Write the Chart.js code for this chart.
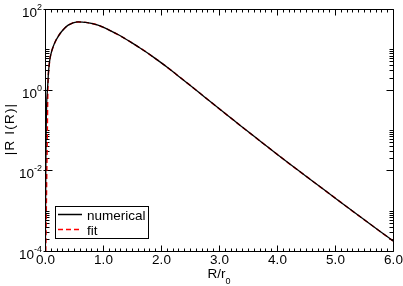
<!DOCTYPE html>
<html>
<head>
<meta charset="utf-8">
<script src="https://cdn.jsdelivr.net/npm/chart.js@4/dist/chart.umd.min.js"></script>
<style>
html,body{margin:0;padding:0;background:#fff;}
#wrap{width:403px;height:286px;position:relative;}
</style>
</head>
<body>
<div id="wrap"><canvas id="c" width="403" height="286"></canvas></div>
<script>
// ---- data ----
const rNum = [0.006,0.010,0.014,0.020,0.030,0.040,0.050,0.060,0.083,0.10,0.12,0.142,0.18,0.228,0.28,0.342,0.40,0.458,0.50,0.57,0.65,0.70,0.80,0.90,1.00,1.125,1.25,1.375,1.50,1.625,1.75,1.875,2.00,2.125,2.25,2.50,2.75,3.00,3.25,3.50,3.75,4.00,4.25,4.50,4.75,5.00,5.25,5.50,5.75,6.00];
const vNum = [4e-5,1e-3,1e-2,0.1,0.5,0.9,1.5,2.7,5.5,7.4,9.5,11.7,15.8,20.9,26.9,33.9,39.8,43.7,46.2,47.9,47.3,46.6,44.0,40.2,35.5,29.2,23.6,18.6,14.5,11.1,8.43,6.31,4.68,3.43,2.48,1.29,0.661,0.339,0.176,0.0912,0.0479,0.0251,0.0133,7.16e-3,3.85e-3,2.07e-3,1.11e-3,6.03e-4,3.27e-4,1.78e-4];
const rFit = [0.011,0.022,0.031,0.040,0.049,0.055,0.065,0.083,0.10,0.12,0.142,0.18,0.228,0.28,0.342,0.40,0.458,0.50,0.57,0.65,0.70,0.80,0.90,1.00,1.125,1.25,1.375,1.50,1.625,1.75,1.875,2.00,2.125,2.25,2.50,2.75,3.00,3.25,3.50,3.75,4.00,4.25,4.50,4.75,5.00,5.25,5.50,5.75,6.00];
const vFit = [6.3e-5,1.0e-3,1.0e-2,0.10,1.0,1.95,3.16,5.5,7.4,9.5,11.7,15.8,20.9,26.9,33.9,39.8,43.7,46.2,47.9,47.3,46.6,44.0,40.2,35.5,29.2,23.6,18.6,14.5,11.1,8.43,6.31,4.68,3.43,2.48,1.29,0.661,0.339,0.176,0.0912,0.0479,0.0251,0.0133,7.16e-3,3.85e-3,2.07e-3,1.11e-3,6.03e-4,3.27e-4,1.78e-4];
const seriesLabels = ['numerical','fit'];
const xTicks = [0,1,2,3,4,5,6];
const xTickLabels = ['0.0','1.0','2.0','3.0','4.0','5.0','6.0'];
const yTicks = [1e-4,1e-2,1,1e2];
const yTickExp = ['-4','-2','0','2'];

const FONT = '"Liberation Sans", Arial, Helvetica, sans-serif';

function pts(xs, ys){ return xs.map((x,i)=>({x:x, y:ys[i]})); }

const decor = {
  id:'decor',
  beforeDatasetsDraw(chart){
    const ctx = chart.ctx, a = chart.chartArea;
    const xs = chart.scales.x, ys = chart.scales.y;
    const L = Math.round(a.left)+0.5, R = Math.round(a.right)+0.5, T = Math.round(a.top)+0.5, B = Math.round(a.bottom)+0.5;
    ctx.save();
    ctx.strokeStyle = '#000'; ctx.lineWidth = 1;
    ctx.beginPath();
    for (let i=0;i<=60;i++){
      const v = i/10;
      const px = Math.round(xs.getPixelForValue(v))+0.5;
      const len = (i%10===0)?6:3;
      ctx.moveTo(px,B); ctx.lineTo(px,B-len);
      ctx.moveTo(px,T); ctx.lineTo(px,T+len);
    }
    const yMinor = [];
    [1e-4,1e-2,1].forEach(d=>{ for(let k=2;k<=10;k++) yMinor.push(d*k); });
    yMinor.forEach(v=>{
      const py = Math.round(ys.getPixelForValue(v))+0.5;
      ctx.moveTo(L,py); ctx.lineTo(L+4,py);
      ctx.moveTo(R,py); ctx.lineTo(R-4,py);
    });
    yTicks.forEach(v=>{
      const py = Math.round(ys.getPixelForValue(v))+0.5;
      ctx.moveTo(L-2,py); ctx.lineTo(L+7,py);
      ctx.moveTo(R,py); ctx.lineTo(R-7,py);
    });
    ctx.stroke();
    ctx.beginPath();
    ctx.rect(L,T,R-L,B-T);
    ctx.stroke();
    ctx.fillStyle = '#000';
    ctx.font = '13.5px '+FONT;
    ctx.textAlign = 'center'; ctx.textBaseline = 'alphabetic';
    xTicks.forEach((v,i)=>{
      ctx.fillText(xTickLabels[i], xs.getPixelForValue(v)+0.5, 264);
    });
    yTicks.forEach((v,i)=>{
      const py = ys.getPixelForValue(v);
      ctx.font = '9px '+FONT;
      const sw = ctx.measureText(yTickExp[i]).width;
      ctx.textAlign = 'left';
      ctx.fillText(yTickExp[i], 42 - sw, py + 1);
      ctx.font = '13.5px '+FONT;
      ctx.textAlign = 'right';
      ctx.fillText('10', 42 - sw, py + 8);
    });
    ctx.font = '13.5px '+FONT;
    const w1 = ctx.measureText('R/r').width;
    ctx.font = '9px '+FONT;
    const w2 = ctx.measureText('0').width;
    const x0 = 219 - (w1+w2)/2;
    ctx.textAlign = 'left';
    ctx.font = '13.5px '+FONT;
    ctx.fillText('R/r', x0, 278);
    ctx.font = '9px '+FONT;
    ctx.fillText('0', x0 + w1, 284);
    ctx.save();
    ctx.translate(14, 129);
    ctx.rotate(-Math.PI/2);
    ctx.font = '13.5px '+FONT;
    ctx.textAlign = 'center';
    try { ctx.letterSpacing = '1.2px'; } catch(e) {}
    ctx.fillText('|R I(R)|', 0, 0);
    try { ctx.letterSpacing = '0px'; } catch(e) {}
    ctx.restore();
    ctx.restore();
  },
  afterDraw(chart){
    const ctx = chart.ctx;
    const ds = chart.data.datasets;
    ctx.save();
    ctx.fillStyle = '#fff';
    ctx.fillRect(55.5,206.5,93,32);
    ctx.strokeStyle = '#000'; ctx.lineWidth = 1;
    ctx.strokeRect(55.5,206.5,93,32);
    const rows = [214.5, 229.5];
    ds.forEach((d,i)=>{
      ctx.beginPath();
      ctx.strokeStyle = d.borderColor;
      ctx.lineWidth = 1.5;
      ctx.setLineDash(d.borderDash || []);
      ctx.moveTo(58, rows[i]); ctx.lineTo(82, rows[i]);
      ctx.stroke();
      ctx.setLineDash([]);
      ctx.fillStyle = '#000';
      ctx.font = '13.5px '+FONT;
      ctx.textAlign = 'left'; ctx.textBaseline = 'alphabetic';
      ctx.fillText(d.label, 87, rows[i] + 5.5);
    });
    ctx.restore();
  }
};

new Chart(document.getElementById('c'), {
  type:'line',
  data:{
    datasets:[
      {label:seriesLabels[0], data:pts(rNum,vNum), borderColor:'#000000', borderWidth:1.3, pointRadius:0, fill:false, cubicInterpolationMode:'monotone'},
      {label:seriesLabels[1], data:pts(rFit,vFit), borderColor:'#ff0000', borderWidth:1.5, borderDash:[5,3], pointRadius:0, fill:false, cubicInterpolationMode:'monotone'}
    ]
  },
  options:{
    responsive:false,
    animation:false,
    devicePixelRatio:1,
    layout:{padding:{left:45,right:10,top:9,bottom:35}},
    plugins:{legend:{display:false}, tooltip:{enabled:false}},
    scales:{
      x:{type:'linear', min:0, max:6, display:false},
      y:{type:'logarithmic', min:1e-4, max:1e2, display:false}
    }
  },
  plugins:[decor]
});
</script>
</body>
</html>
